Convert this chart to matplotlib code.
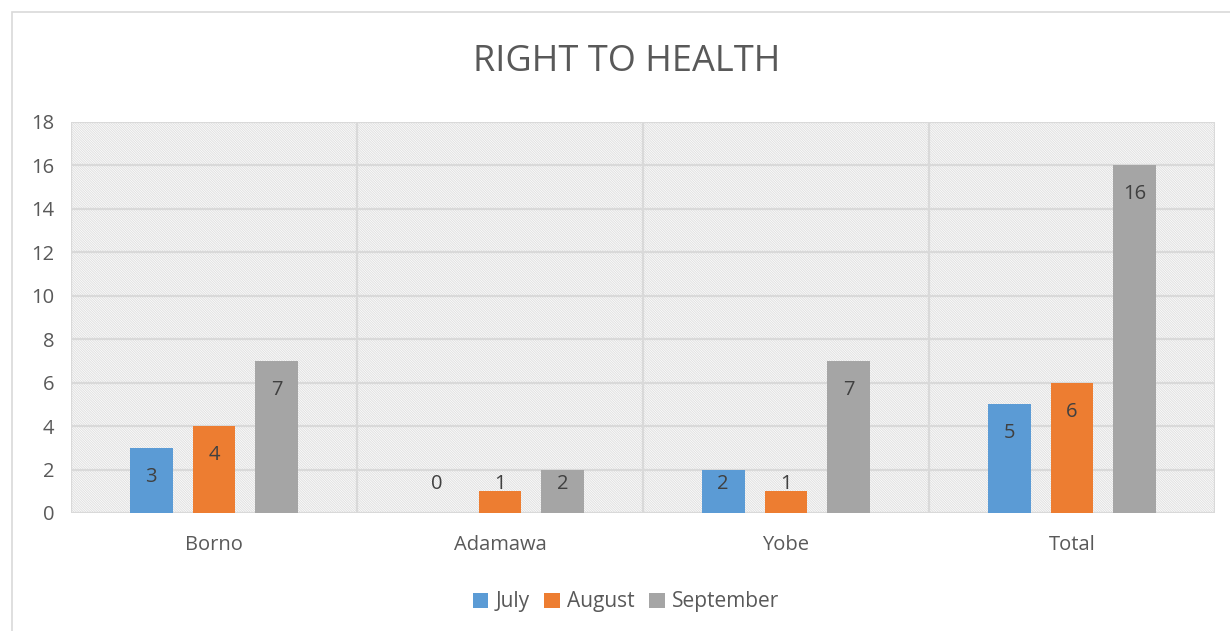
import matplotlib
matplotlib.use("Agg")
import matplotlib.pyplot as plt
from matplotlib.patches import Rectangle
import numpy as np

categories = ["Borno", "Adamawa", "Yobe", "Total"]
series_names = ["July", "August", "September"]
july = [3, 0, 2, 5]
august = [4, 1, 1, 6]
september = [7, 2, 7, 16]
yticks = [0, 2, 4, 6, 8, 10, 12, 14, 16, 18]

colors = ["#5b9bd5", "#ed7d31", "#a5a5a5"]
text_color = "#595959"
grid_color = "#d9d9d9"

plt.rcParams['font.family'] = ['Open Sans', 'DejaVu Sans']

W, H = 1230, 631
fig = plt.figure(figsize=(W / 100, H / 100), dpi=100)
fig.patch.set_facecolor("white")

# outer border
fig.patches.append(Rectangle((12 / W, -0.05), 1.2, (H - 12) / H + 0.05,
                             transform=fig.transFigure, fill=False,
                             edgecolor="#d9d9d9", linewidth=1.2))

left, right, top, bottom = 71, 1215, 122, 513
ax = fig.add_axes([left / W, (H - bottom) / H, (right - left) / W, (bottom - top) / H])
ax.set_xlim(0, len(categories))
ax.set_ylim(0, 18)

# hatched background
plt.rcParams['hatch.linewidth'] = 0.7
bg = Rectangle((0, 0), 1, 1, transform=ax.transAxes, facecolor="white",
               edgecolor="#e0e0e0", hatch="\\" * 14, linewidth=0, zorder=0)
ax.add_patch(bg)

for s in ax.spines.values():
    s.set_visible(False)

for y in yticks:
    ax.axhline(y, color=grid_color, linewidth=1.6, zorder=1)
for x in range(len(categories) + 1):
    ax.axvline(x, color=grid_color, linewidth=1.6, zorder=1)

data = [july, august, september]
bw = 0.15
step = 0.22
centers = np.arange(len(categories)) + 0.5
px_per_unit = (bottom - top) / 18.0
off = 29 / px_per_unit
for i, (vals, c, name) in enumerate(zip(data, colors, series_names)):
    xs = centers + (i - 1) * step
    ax.bar(xs, vals, width=bw, color=c, zorder=3, label=name)
    for x, v in zip(xs, vals):
        yl = max(v - off, off)
        ax.text(x, yl, str(v), ha="center", va="center", fontsize=14.5,
                color="#404040", zorder=4)

ax.set_yticks(yticks)
ax.set_yticklabels([str(y) for y in yticks])
ax.set_xticks(centers)
ax.set_xticklabels(categories)
ax.tick_params(axis="both", length=0, labelsize=14.5, colors=text_color)
ax.tick_params(axis="y", pad=12)
ax.tick_params(axis="x", pad=16)

fig.text(627 / W, 1 - 62 / H, "RIGHT TO HEALTH", ha="center", va="center",
         fontsize=26, color=text_color)

handles, labels = ax.get_legend_handles_labels()
leg = fig.legend(handles, labels, loc="center", bbox_to_anchor=(626 / W, 1 - 602 / H),
                 ncol=3, frameon=False, fontsize=15, handlelength=0.75,
                 handleheight=0.75, handletextpad=0.35, columnspacing=0.7)
for t in leg.get_texts():
    t.set_color(text_color)

fig.savefig("out.png", dpi=100, facecolor="white")
